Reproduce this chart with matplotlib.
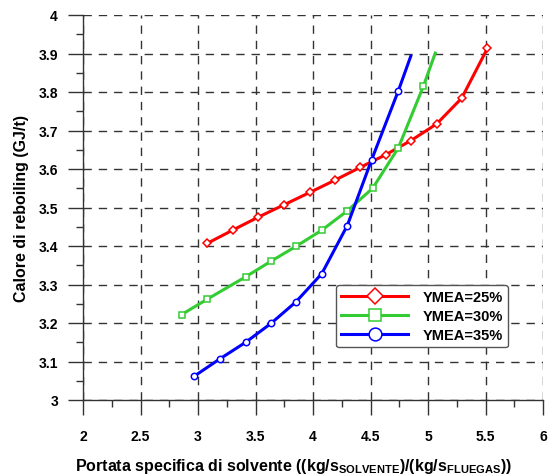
import matplotlib
matplotlib.use("Agg")
import matplotlib.pyplot as plt

plt.rcParams['font.family'] = ['Liberation Sans', 'DejaVu Sans']
plt.rcParams['font.weight'] = 'bold'
plt.rcParams['mathtext.fontset'] = 'custom'
plt.rcParams['mathtext.rm'] = 'Liberation Sans:bold'
plt.rcParams['mathtext.bf'] = 'Liberation Sans:bold'

# YMEA = 25%
x25 = [3.081, 3.307, 3.524, 3.748, 3.971, 4.191, 4.409, 4.632, 4.852, 5.075, 5.293, 5.516]
y25 = [3.407, 3.442, 3.475, 3.507, 3.539, 3.571, 3.604, 3.637, 3.674, 3.717, 3.784, 3.913]

# YMEA = 30% (last point is the line end, no marker)
x30 = [2.858, 3.081, 3.415, 3.632, 3.852, 4.076, 4.293, 4.519, 4.742, 4.960, 5.063]
y30 = [3.222, 3.262, 3.320, 3.360, 3.399, 3.441, 3.490, 3.550, 3.655, 3.815, 3.901]

# YMEA = 35% (last point is the line end, no marker)
x35 = [2.968, 3.191, 3.415, 3.635, 3.852, 4.076, 4.298, 4.510, 4.742, 4.850]
y35 = [3.062, 3.107, 3.150, 3.199, 3.255, 3.328, 3.453, 3.624, 3.803, 3.893]

labels = ['YMEA=25%', 'YMEA=30%', 'YMEA=35%']
colors = ['#ff0000', '#33cc33', '#0000ff']
markers = ['D', 's', 'o']

fig = plt.figure(figsize=(5.48, 4.77), dpi=100)
ax = fig.add_axes([83 / 548, 76 / 477, 460 / 548, 385 / 477])

series = [(x25, y25, None), (x30, y30, list(range(len(x30) - 1))),
          (x35, y35, list(range(len(x35) - 1)))]
for (xs, ys, every), lab, c, m in zip(series, labels, colors, markers):
    ax.plot(xs, ys, color=c, lw=2.2, marker=m, markevery=every,
            markersize=4.6 if m != 'D' else 4.0, markerfacecolor='white',
            markeredgecolor=c, markeredgewidth=1.1, label=lab)

ax.set_xlim(2, 6)
ax.set_ylim(3, 4)
ax.set_xticks([2, 2.5, 3, 3.5, 4, 4.5, 5, 5.5, 6])
ax.set_xticklabels(['2', '2.5', '3', '3.5', '4', '4.5', '5', '5.5', '6'])
ax.set_yticks([3 + 0.1 * i for i in range(11)])
ax.set_yticklabels(['3', '3.1', '3.2', '3.3', '3.4', '3.5', '3.6', '3.7', '3.8', '3.9', '4'])
ax.set_xticks([2.25 + 0.5 * i for i in range(8)], minor=True)
ax.set_yticks([3.05 + 0.1 * i for i in range(10)], minor=True)

for s in ['top', 'right']:
    ax.spines[s].set_visible(False)
for s in ['left', 'bottom']:
    ax.spines[s].set_linewidth(1.0)
    ax.spines[s].set_color('#333333')

ax.tick_params(which='major', direction='out', length=11, width=1, colors='#333333',
               labelsize=10, labelcolor='black')
ax.tick_params(which='minor', direction='out', length=5, width=1, colors='#333333')
ax.tick_params(axis='x', which='major', pad=10)
ax.tick_params(axis='y', which='major', pad=7)
for t in ax.get_xticklabels() + ax.get_yticklabels():
    t.set_fontweight('bold')

ax.grid(True, which='major', color='#333333', lw=1, linestyle=(0, (6, 5)))
ax.set_axisbelow(True)

ax.set_ylabel('Calore di reboiling (GJ/t)', fontsize=11.5, fontweight='bold')
ax.yaxis.set_label_coords(-0.118, 0.5)
ax.set_xlabel(r'Portata specifica di solvente ((kg/s$_{\mathbf{SOLVENTE}}$)/(kg/s$_{\mathbf{FLUEGAS}}$))',
              fontsize=11.5, fontweight='bold')
ax.xaxis.set_label_coords(0.457, -0.145)

leg = ax.legend(loc='upper left', bbox_to_anchor=(336 / 548, 1 - 286 / 477),
                bbox_transform=fig.transFigure, borderaxespad=0, fancybox=True,
                framealpha=1, edgecolor='#555555', markerscale=2.0,
                handlelength=4.6, handletextpad=1.0, labelspacing=0.35,
                borderpad=0.35, prop={'weight': 'bold', 'size': 10.5})
leg.get_frame().set_linewidth(1.0)

fig.savefig('out.png', dpi=100)
